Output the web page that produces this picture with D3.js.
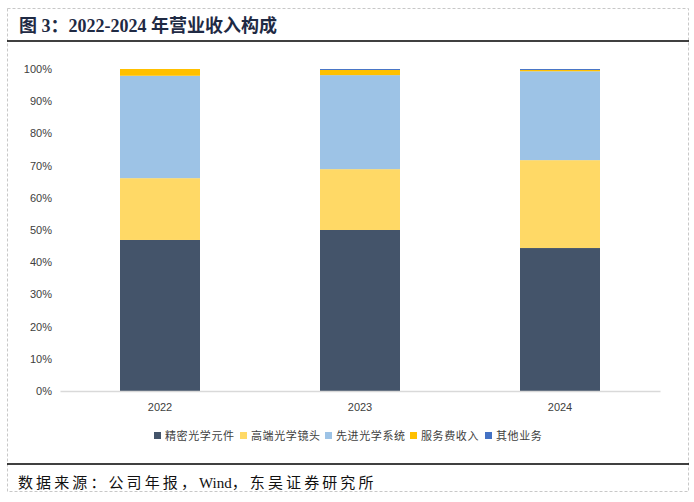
<!DOCTYPE html>
<html>
<head>
<meta charset="utf-8">
<script src="https://cdn.jsdelivr.net/npm/d3@7"></script>
<style>
  html, body { margin: 0; padding: 0; background: #fff; }
  svg { display: block; }
</style>
</head>
<body>
<svg id="chart" width="694" height="502"></svg>
<script>
// Data (shares of revenue, %)
const years = ['2022', '2023', '2024'];
const seriesNames = ['精密光学元件', '高端光学镜头', '先进光学系统', '服务费收入', '其他业务'];
const precision = [46.9, 50.0, 44.4];
const lenses = [19.2, 18.9, 27.3];
const systems = [31.8, 29.2, 27.6];
const services = [2.1, 1.6, 0.4];
const other = [0.0, 0.3, 0.3];
const yTicks = [0, 10, 20, 30, 40, 50, 60, 70, 80, 90, 100];
const colors = ['#44546a', '#ffd966', '#9dc3e6', '#ffc000', '#4472c4'];

const svg = d3.select('#chart');
const cjk = '"Noto Sans CJK SC", sans-serif';

// Frame
svg.append('rect')
  .attr('x', 7.5).attr('y', 8.5)
  .attr('width', 681).attr('height', 483)
  .attr('fill', 'none')
  .attr('stroke', '#c8c8c8')
  .attr('stroke-dasharray', '3,2');

svg.append('line')
  .attr('x1', 7).attr('x2', 689)
  .attr('y1', 41).attr('y2', 41)
  .attr('stroke', '#000').attr('stroke-width', 1.5);

svg.append('line')
  .attr('x1', 7).attr('x2', 689)
  .attr('y1', 464).attr('y2', 464)
  .attr('stroke', '#000').attr('stroke-width', 1.5);

// Title
svg.append('text')
  .attr('x', 19).attr('y', 32)
  .attr('font-family', '"Liberation Serif", ' + cjk)
  .attr('font-weight', 'bold')
  .attr('font-size', 18)
  .attr('fill', '#1f2a44')
  .text('图 3：2022-2024 年营业收入构成');

// Source (latin word kept tight, CJK spaced out)
const source = svg.append('text')
  .attr('x', 18).attr('y', 488)
  .attr('font-family', '"Liberation Serif", ' + cjk)
  .attr('font-size', 15)
  .attr('fill', '#111');
[['数据来源：公司年报，', 3.1], ['Wind', 0], ['，东吴证券研究所', 3.1]].forEach(([t, ls]) => {
  source.append('tspan').attr('letter-spacing', ls).text(t);
});

// Scales
const x = d3.scaleBand().domain(years).range([60, 660]).paddingInner(0.6).paddingOuter(0.3);
const y = d3.scaleLinear().domain([0, 100]).range([391, 69]);

// Stack
const rows = years.map((yr, i) => ({
  year: yr,
  s0: precision[i], s1: lenses[i], s2: systems[i], s3: services[i], s4: other[i]
}));
const stack = d3.stack().keys(['s0', 's1', 's2', 's3', 's4']);
const layers = stack(rows);

// Y axis labels
const yAxis = d3.axisLeft(y).tickValues(yTicks).tickFormat(d => d + '%').tickSize(0).tickPadding(0);
const yg = svg.append('g').attr('transform', 'translate(52,0)').call(yAxis);
yg.select('.domain').remove();
yg.selectAll('text')
  .attr('font-family', 'Arial, "Liberation Sans", sans-serif')
  .attr('font-size', 11)
  .attr('fill', '#404040');

// Bars
svg.append('g')
  .selectAll('g')
  .data(layers)
  .join('g')
  .attr('fill', (d, i) => colors[i])
  .selectAll('rect')
  .data(d => d)
  .join('rect')
  .attr('x', d => x(d.data.year))
  .attr('width', x.bandwidth())
  .attr('y', d => y(d[1]))
  .attr('height', d => y(d[0]) - y(d[1]));

// X axis
const xAxis = d3.axisBottom(x).tickSize(0).tickPadding(12);
const xg = svg.append('g').attr('transform', 'translate(0,391)').call(xAxis);
xg.select('.domain').attr('stroke', '#d9d9d9').attr('stroke-width', 1.5);
xg.selectAll('text')
  .attr('font-family', 'Arial, "Liberation Sans", sans-serif')
  .attr('font-size', 11)
  .attr('fill', '#404040');

// Legend
const legendX = [154, 240, 325, 410, 485];
const legend = svg.append('g')
  .selectAll('g')
  .data(seriesNames)
  .join('g')
  .attr('transform', (d, i) => `translate(${legendX[i]},436)`);

legend.append('rect')
  .attr('x', 0).attr('y', -4)
  .attr('width', 7).attr('height', 7)
  .attr('fill', (d, i) => colors[i]);

legend.append('text')
  .attr('x', 11).attr('y', 4)
  .attr('font-family', cjk)
  .attr('font-size', 11)
  .attr('letter-spacing', 0.6)
  .attr('fill', '#404040')
  .text(d => d);
</script>
</body>
</html>
